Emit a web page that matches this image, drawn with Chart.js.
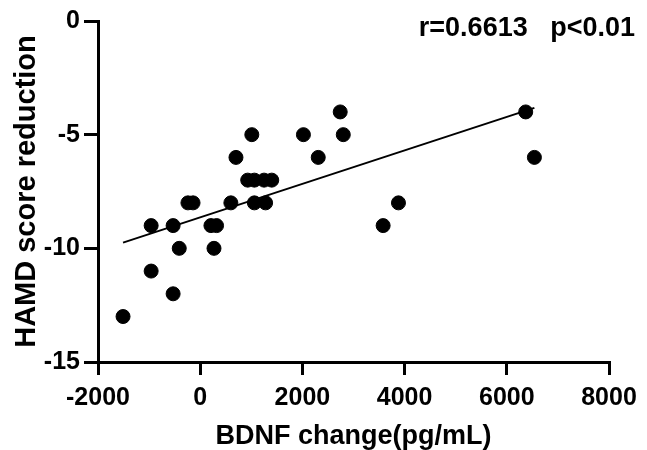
<!DOCTYPE html>
<html lang="en">
  <head>
    <meta charset="UTF-8" />
    <title>BDNF vs HAMD</title>
    <script src="https://cdn.jsdelivr.net/npm/chart.js"></script>
    <style>
      * {
        margin: 0;
        padding: 0;
      }
      body {
        background: #fff;
      }
      .wrap {
        width: 647px;
        height: 450px;
      }
    </style>
  </head>
  <body>
    <div class="wrap">
      <canvas id="scatter"></canvas>
    </div>

    <script>
      // data
      var bdnfChange = [-1510, -960, -960, -530, -530, -410, -240, -140, 210, 320, 270, 600, 700, 930, 1060,
        1010, 1060, 1280, 1250, 1400, 2020, 2310, 2740, 2800, 3580, 3880, 6370, 6540];
      var hamdReduction = [-13, -9, -11, -9, -12, -10, -8, -8, -9, -9, -10, -8, -6, -7, -7,
        -5, -8, -8, -7, -7, -5, -6, -4, -5, -9, -8, -4, -6];

      // fitted line end points
      var fitX = [-1510, 6540];
      var fitY = [-9.75, -3.82];

      var xTicks = [-2000, 0, 2000, 4000, 6000, 8000];
      var yTicks = [-15, -10, -5, 0];

      var statsText = 'r=0.6613   p<0.01';

      var font = "'Liberation Sans', Arial, sans-serif";

      var points = bdnfChange.map(function (x, i) {
        return { x: x, y: hamdReduction[i] };
      });
      var fitLine = fitX.map(function (x, i) {
        return { x: x, y: fitY[i] };
      });

      // r / p annotation top right
      var statsLabel = {
        id: 'statsLabel',
        afterDraw: function (chart) {
          var c = chart.ctx;
          c.save();
          c.font = 'bold 27px ' + font;
          c.fillStyle = '#000';
          c.textAlign = 'right';
          c.textBaseline = 'middle';
          c.fillText(statsText, chart.chartArea.right + 26, 29);
          c.restore();
        }
      };

      var ctx = document.getElementById('scatter').getContext('2d');
      var myChart = new Chart(ctx, {
        type: 'scatter',
        data: {
          datasets: [
            {
              label: 'fit',
              type: 'line',
              data: fitLine,
              borderColor: '#000',
              borderWidth: 2,
              pointRadius: 0,
              fill: false,
              order: 1
            },
            {
              label: 'patients',
              data: points,
              backgroundColor: '#000',
              borderColor: '#000',
              pointRadius: 7,
              pointHoverRadius: 7,
              order: 0
            }
          ]
        },
        plugins: [statsLabel],
        options: {
          responsive: true,
          maintainAspectRatio: false,
          animation: false,
          layout: {
            padding: { left: 0, right: 38, top: 21, bottom: 0 }
          },
          plugins: {
            legend: { display: false },
            tooltip: { enabled: false }
          },
          scales: {
            x: {
              type: 'linear',
              min: -2000,
              max: 8000,
              afterBuildTicks: function (scale) {
                scale.ticks = xTicks.map(function (v) { return { value: v }; });
              },
              afterFit: function (scale) {
                scale.height = 88;
              },
              border: { display: true, width: 3, color: '#000' },
              grid: {
                drawOnChartArea: false,
                drawTicks: true,
                tickLength: 13,
                lineWidth: 3,
                color: '#000'
              },
              ticks: {
                color: '#000',
                padding: 8,
                maxRotation: 0,
                font: { family: font, size: 25, weight: 'bold' },
                callback: function (v) { return String(v); }
              },
              title: {
                display: true,
                text: 'BDNF change(pg/mL)',
                color: '#000',
                font: { family: font, size: 27, weight: 'bold', lineHeight: 1 },
                padding: { top: 4, bottom: 0 }
              }
            },
            y: {
              type: 'linear',
              min: -15,
              max: 0,
              afterBuildTicks: function (scale) {
                scale.ticks = yTicks.map(function (v) { return { value: v }; });
              },
              afterFit: function (scale) {
                scale.width = 98;
              },
              border: { display: true, width: 3, color: '#000' },
              grid: {
                drawOnChartArea: false,
                drawTicks: true,
                tickLength: 14,
                lineWidth: 3,
                color: '#000'
              },
              ticks: {
                color: '#000',
                padding: 4,
                font: { family: font, size: 25, weight: 'bold' },
                callback: function (v) { return String(v); }
              },
              title: {
                display: true,
                text: 'HAMD score reduction',
                color: '#000',
                font: { family: font, size: 29, weight: 'bold', lineHeight: 1 },
                padding: { top: 12, bottom: 0 }
              }
            }
          }
        }
      });
    </script>
  </body>
</html>
